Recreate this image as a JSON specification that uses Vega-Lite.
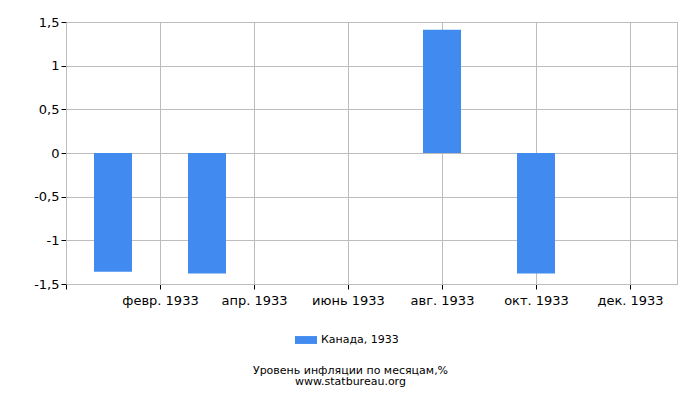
{
  "$schema": "https://vega.github.io/schema/vega-lite/v6.json",
  "width": 611,
  "height": 262,
  "autosize": {"type": "none"},
  "padding": {"left": 66, "top": 22, "right": 23, "bottom": 116},
  "background": "white",
  "config": {
    "font": "DejaVu Sans",
    "view": {"stroke": "#bdbdbd", "strokeWidth": 1}
  },
  "title": {
    "text": ["Уровень инфляции по месяцам,%", "www.statbureau.org"],
    "orient": "bottom",
    "anchor": "middle",
    "fontSize": 11,
    "fontWeight": "normal",
    "font": "DejaVu Sans",
    "color": "#000000",
    "lineHeight": 11,
    "offset": 20,
    "dx": -21
  },
  "data": {
    "values": [
      {"month": 1, "value": -1.36, "series": "Канада, 1933"},
      {"month": 3, "value": -1.38, "series": "Канада, 1933"},
      {"month": 8, "value": 1.41, "series": "Канада, 1933"},
      {"month": 10, "value": -1.38, "series": "Канада, 1933"}
    ]
  },
  "mark": {"type": "bar", "width": 38},
  "encoding": {
    "x": {
      "field": "month",
      "type": "quantitative",
      "scale": {"domain": [0, 13], "nice": false, "zero": false, "padding": 0},
      "axis": {
        "title": null,
        "values": [0, 2, 4, 6, 8, 10, 12],
        "labelExpr": "['', 'янв. 1933', 'февр. 1933', 'март 1933', 'апр. 1933', 'май 1933', 'июнь 1933', 'июль 1933', 'авг. 1933', 'сент. 1933', 'окт. 1933', 'нояб. 1933', 'дек. 1933'][datum.value]",
        "labelFontSize": 13,
        "labelColor": "#000000",
        "labelPadding": 5,
        "labelFlush": false,
        "labelOverlap": false,
        "grid": true,
        "gridColor": "#bdbdbd",
        "domainColor": "#bdbdbd",
        "tickColor": "#000000",
        "tickSize": 5
      }
    },
    "y": {
      "field": "value",
      "type": "quantitative",
      "scale": {"domain": [-1.5, 1.5], "nice": false},
      "axis": {
        "title": null,
        "values": [-1.5, -1, -0.5, 0, 0.5, 1, 1.5],
        "labelExpr": "replace(toString(datum.value), '.', ',')",
        "labelFontSize": 13,
        "labelColor": "#000000",
        "labelPadding": 2,
        "grid": true,
        "gridColor": "#bdbdbd",
        "domainColor": "#bdbdbd",
        "tickColor": "#000000",
        "tickSize": 5
      }
    },
    "color": {
      "field": "series",
      "type": "nominal",
      "scale": {"range": ["#418bf0"]},
      "legend": {
        "title": null,
        "orient": "none",
        "legendX": 229,
        "legendY": 307,
        "symbolType": "M-1,-0.36H1V0.36H-1Z",
        "symbolSize": 484,
        "symbolStrokeWidth": 0,
        "labelFontSize": 11,
        "labelColor": "#000000",
        "labelOffset": 4
      }
    }
  }
}
